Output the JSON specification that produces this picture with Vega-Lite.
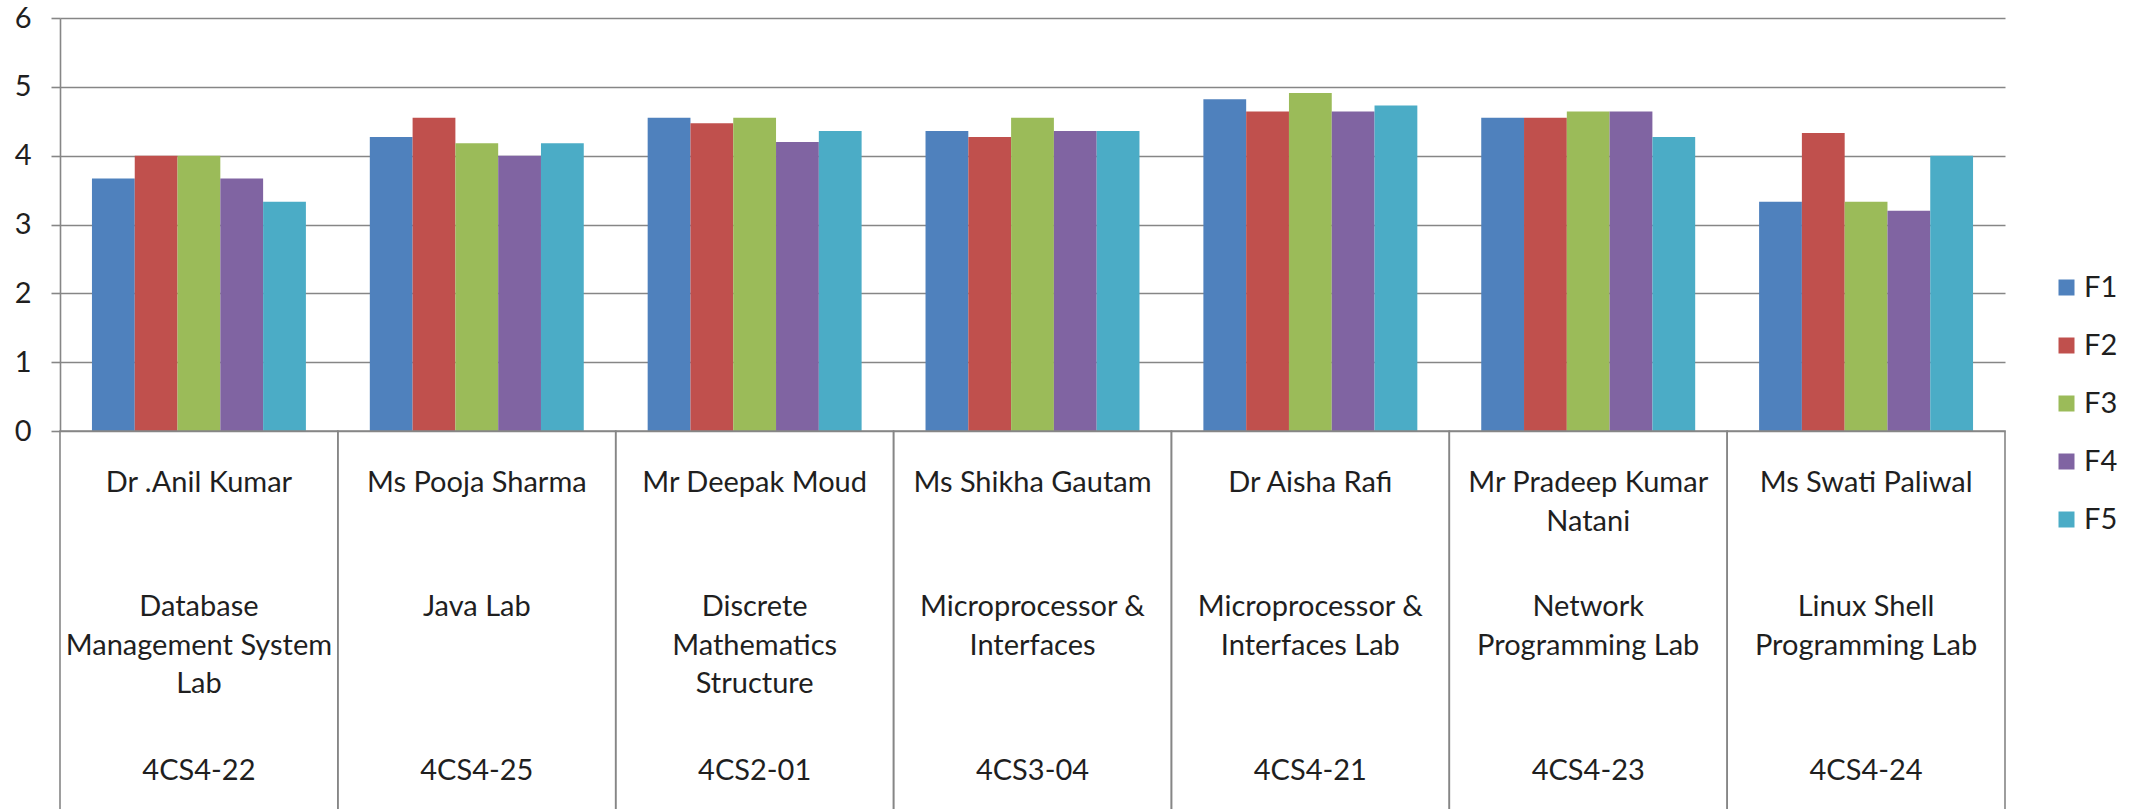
{
  "$schema": "https://vega.github.io/schema/vega-lite/v6.json",
  "autosize": {"type": "pad"},
  "padding": {"left": 14, "top": 4, "right": 0, "bottom": 0},
  "background": "white",
  "bounds": "flush",
  "spacing": 0,
  "config": {
    "view": {"stroke": null},
    "font": "Lato"
  },
  "datasets": {
    "scores": [
      {"code": "4CS4-22", "series": "F1", "value": 3.67},
      {"code": "4CS4-22", "series": "F2", "value": 4.0},
      {"code": "4CS4-22", "series": "F3", "value": 4.0},
      {"code": "4CS4-22", "series": "F4", "value": 3.67},
      {"code": "4CS4-22", "series": "F5", "value": 3.33},
      {"code": "4CS4-25", "series": "F1", "value": 4.27},
      {"code": "4CS4-25", "series": "F2", "value": 4.55},
      {"code": "4CS4-25", "series": "F3", "value": 4.18},
      {"code": "4CS4-25", "series": "F4", "value": 4.0},
      {"code": "4CS4-25", "series": "F5", "value": 4.18},
      {"code": "4CS2-01", "series": "F1", "value": 4.55},
      {"code": "4CS2-01", "series": "F2", "value": 4.47},
      {"code": "4CS2-01", "series": "F3", "value": 4.55},
      {"code": "4CS2-01", "series": "F4", "value": 4.2},
      {"code": "4CS2-01", "series": "F5", "value": 4.36},
      {"code": "4CS3-04", "series": "F1", "value": 4.36},
      {"code": "4CS3-04", "series": "F2", "value": 4.27},
      {"code": "4CS3-04", "series": "F3", "value": 4.55},
      {"code": "4CS3-04", "series": "F4", "value": 4.36},
      {"code": "4CS3-04", "series": "F5", "value": 4.36},
      {"code": "4CS4-21", "series": "F1", "value": 4.82},
      {"code": "4CS4-21", "series": "F2", "value": 4.64},
      {"code": "4CS4-21", "series": "F3", "value": 4.91},
      {"code": "4CS4-21", "series": "F4", "value": 4.64},
      {"code": "4CS4-21", "series": "F5", "value": 4.73},
      {"code": "4CS4-23", "series": "F1", "value": 4.55},
      {"code": "4CS4-23", "series": "F2", "value": 4.55},
      {"code": "4CS4-23", "series": "F3", "value": 4.64},
      {"code": "4CS4-23", "series": "F4", "value": 4.64},
      {"code": "4CS4-23", "series": "F5", "value": 4.27},
      {"code": "4CS4-24", "series": "F1", "value": 3.33},
      {"code": "4CS4-24", "series": "F2", "value": 4.33},
      {"code": "4CS4-24", "series": "F3", "value": 3.33},
      {"code": "4CS4-24", "series": "F4", "value": 3.2},
      {"code": "4CS4-24", "series": "F5", "value": 4.0}
    ],
    "table": [
      {"code": "4CS4-22", "row": "name", "label": "Dr .Anil Kumar"},
      {"code": "4CS4-22", "row": "subject", "label": "Database\nManagement System\nLab"},
      {"code": "4CS4-22", "row": "code", "label": "4CS4-22"},
      {"code": "4CS4-25", "row": "name", "label": "Ms Pooja Sharma"},
      {"code": "4CS4-25", "row": "subject", "label": "Java Lab"},
      {"code": "4CS4-25", "row": "code", "label": "4CS4-25"},
      {"code": "4CS2-01", "row": "name", "label": "Mr Deepak Moud"},
      {"code": "4CS2-01", "row": "subject", "label": "Discrete\nMathematics\nStructure"},
      {"code": "4CS2-01", "row": "code", "label": "4CS2-01"},
      {"code": "4CS3-04", "row": "name", "label": "Ms Shikha Gautam"},
      {"code": "4CS3-04", "row": "subject", "label": "Microprocessor &\nInterfaces"},
      {"code": "4CS3-04", "row": "code", "label": "4CS3-04"},
      {"code": "4CS4-21", "row": "name", "label": "Dr Aisha Rafi"},
      {"code": "4CS4-21", "row": "subject", "label": "Microprocessor &\nInterfaces Lab"},
      {"code": "4CS4-21", "row": "code", "label": "4CS4-21"},
      {"code": "4CS4-23", "row": "name", "label": "Mr Pradeep Kumar\nNatani"},
      {"code": "4CS4-23", "row": "subject", "label": "Network\nProgramming Lab"},
      {"code": "4CS4-23", "row": "code", "label": "4CS4-23"},
      {"code": "4CS4-24", "row": "name", "label": "Ms Swati Paliwal"},
      {"code": "4CS4-24", "row": "subject", "label": "Linux Shell\nProgramming Lab"},
      {"code": "4CS4-24", "row": "code", "label": "4CS4-24"}
    ]
  },
  "vconcat": [
    {
      "width": 1945,
      "height": 413,
      "data": {"name": "scores"},
      "mark": {"type": "bar"},
      "encoding": {
        "x": {
          "field": "code", "type": "nominal",
          "sort": ["4CS4-22", "4CS4-25", "4CS2-01", "4CS3-04", "4CS4-21", "4CS4-23", "4CS4-24"],
          "scale": {"paddingInner": 0.23, "paddingOuter": 0.115},
          "axis": null
        },
        "xOffset": {
          "field": "series", "type": "nominal",
          "sort": ["F1", "F2", "F3", "F4", "F5"],
          "scale": {"paddingInner": 0, "paddingOuter": 0}
        },
        "y": {
          "field": "value", "type": "quantitative",
          "scale": {"domain": [0, 6], "nice": false},
          "axis": {
            "title": null,
            "values": [0, 1, 2, 3, 4, 5, 6],
            "grid": true,
            "gridColor": "#868686",
            "gridWidth": 1.6,
            "domainColor": "#868686",
            "domainWidth": 1.6,
            "tickColor": "#868686",
            "tickWidth": 1.6,
            "tickSize": 9,
            "labelFont": "Lato",
            "labelFontSize": 29,
            "labelColor": "#1f1f1f",
            "labelPadding": 20
          }
        },
        "color": {
          "field": "series", "type": "nominal",
          "scale": {
            "domain": ["F1", "F2", "F3", "F4", "F5"],
            "range": ["#4F81BD", "#C0504D", "#9BBB59", "#8064A2", "#4BACC6"]
          },
          "legend": {
            "title": null,
            "orient": "none",
            "legendX": 1992,
            "legendY": 255,
            "padding": 0,
            "symbolType": "square",
            "symbolSize": 256,
            "symbolStrokeWidth": 0,
            "labelFont": "Lato",
            "labelFontSize": 29,
            "labelColor": "#1f1f1f",
            "labelOffset": 3,
            "rowPadding": 28
          }
        }
      }
    },
    {
      "width": 1945,
      "height": 380,
      "data": {"name": "table"},
      "encoding": {
        "x": {
          "field": "code", "type": "nominal",
          "sort": ["4CS4-22", "4CS4-25", "4CS2-01", "4CS3-04", "4CS4-21", "4CS4-23", "4CS4-24"],
          "scale": {"paddingInner": 0, "paddingOuter": 0},
          "axis": null
        }
      },
      "layer": [
        {
          "transform": [{"filter": "datum.row === 'code'"}],
          "mark": {"type": "rect", "fillOpacity": 0, "stroke": "#868686", "strokeWidth": 1.6}
        },
        {
          "transform": [{"filter": "datum.row !== 'subject'"}],
          "mark": {"type": "text", "font": "Lato", "fontSize": 29, "color": "#1f1f1f", "baseline": "middle", "align": "center", "lineBreak": "\n", "lineHeight": 38.5},
          "encoding": {
            "y": {"field": "row", "type": "nominal", "scale": {"type": "point", "domain": ["name", "subject", "code"], "range": [52, 340], "padding": 0}, "axis": null},
            "text": {"field": "label", "type": "nominal"}
          }
        },
        {
          "transform": [{"filter": "datum.row === 'subject'"}],
          "mark": {"type": "text", "font": "Lato", "fontSize": 29, "color": "#1f1f1f", "baseline": "middle", "align": "center", "lineBreak": "\n", "lineHeight": 38.5, "dy": -20},
          "encoding": {
            "y": {"field": "row", "type": "nominal", "scale": {"type": "point", "domain": ["name", "subject", "code"], "range": [52, 340], "padding": 0}, "axis": null},
            "text": {"field": "label", "type": "nominal"}
          }
        }
      ]
    }
  ],
  "resolve": {"scale": {"x": "independent", "y": "independent"}}
}
